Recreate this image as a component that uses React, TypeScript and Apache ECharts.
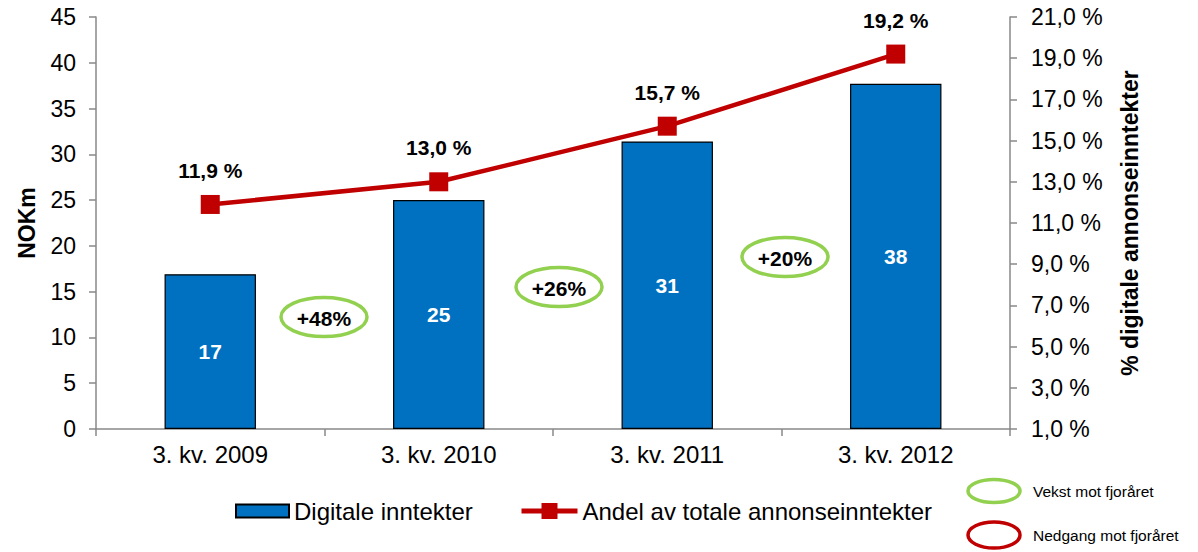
import React, { useEffect, useRef } from "react";
import * as echarts from "echarts";

const categories = ["3. kv. 2009", "3. kv. 2010", "3. kv. 2011", "3. kv. 2012"];
const digitalRevenue = [16.9, 25.0, 31.4, 37.7];
const shareOfTotal = [11.9, 13.0, 15.7, 19.2];
const growthLabels = ["+48%", "+26%", "+20%"];
const rightTicks = [1, 3, 5, 7, 9, 11, 13, 15, 17, 19, 21];
const barName = "Digitale inntekter";
const lineName = "Andel av totale annonseinntekter";
const keyLabels = ["Vekst mot fjoråret", "Nedgang mot fjoråret"];

const FONT = "'Liberation Sans', Arial, sans-serif";
const GREEN = "#92D050";
const RED = "#C00000";
const BLUE = "#0070C0";
const AXIS = "#898989";

const growthPos = [
  { x: 324, y: 317 },
  { x: 559, y: 287 },
  { x: 785, y: 257 },
];

const pct = (v: number) => v.toFixed(1).replace(".", ",") + " %";

export default function App() {
  const ref = useRef<HTMLDivElement>(null);
  useEffect(() => {
    document.body.style.margin = "0";
    const chart = echarts.init(ref.current!, undefined, { renderer: "svg" });
    const graphics: any[] = [];
    growthLabels.forEach((t, i) => {
      graphics.push({
        type: "ellipse",
        shape: { cx: growthPos[i].x, cy: growthPos[i].y, rx: 43, ry: 19.5 },
        style: { fill: "none", stroke: GREEN, lineWidth: 3.5 },
        z: 10,
      });
      graphics.push({
        type: "text",
        x: growthPos[i].x,
        y: growthPos[i].y + 1,
        style: {
          text: t,
          font: `bold 21px ${FONT}`,
          fill: "#000",
          align: "center",
          verticalAlign: "middle",
        },
        z: 11,
      });
    });
    const keyColors = [GREEN, RED];
    const keyY = [491, 535];
    keyLabels.forEach((t, i) => {
      graphics.push({
        type: "ellipse",
        shape: { cx: 994, cy: keyY[i], rx: 26, ry: 11.5 + i * 1.5 },
        style: { fill: "none", stroke: keyColors[i], lineWidth: 3.5 },
      });
      graphics.push({
        type: "text",
        x: 1033,
        y: keyY[i],
        style: {
          text: t,
          font: `15.5px ${FONT}`,
          fill: "#000",
          align: "left",
          verticalAlign: "middle",
        },
      });
    });

    const legendText = { fontSize: 24, color: "#000", fontFamily: FONT };

    chart.setOption({
      animation: false,
      textStyle: { fontFamily: FONT },
      grid: { left: 96, right: 188, top: 17, bottom: 123, outerBoundsMode: "none" },
      legend: [
        {
          left: 230,
          top: 494,
          itemWidth: 53,
          itemHeight: 13,
          textStyle: legendText,
          data: [{ name: barName, icon: "rect" }],
        },
        {
          left: 514,
          top: 494,
          itemWidth: 56,
          itemHeight: 20,
          lineStyle: { width: 5 },
          textStyle: legendText,
          data: [{ name: lineName }],
        },
      ],
      xAxis: {
        type: "category",
        data: categories,
        axisLine: { lineStyle: { color: AXIS, width: 1.5 } },
        axisTick: { show: true, length: 7, lineStyle: { color: AXIS, width: 1.5 } },
        axisLabel: { fontSize: 24, color: "#000", margin: 13 },
      },
      yAxis: [
        {
          type: "value",
          min: 0,
          max: 45,
          interval: 5,
          name: "NOKm",
          nameLocation: "middle",
          nameRotate: 90,
          nameGap: 58,
          nameTextStyle: { fontSize: 23, fontWeight: "bold", color: "#000" },
          splitLine: { show: false },
          axisLine: { show: true, lineStyle: { color: AXIS, width: 1.5 } },
          axisTick: { show: true, length: 7, lineStyle: { color: AXIS, width: 1.5 } },
          axisLabel: { fontSize: 23, color: "#000", margin: 20 },
        },
        {
          type: "value",
          min: 1,
          max: 21,
          position: "right",
          name: "% digitale annonseinntekter",
          nameLocation: "middle",
          nameRotate: 90,
          nameGap: 108,
          nameTextStyle: { fontSize: 23, fontWeight: "bold", color: "#000" },
          splitLine: { show: false },
          axisLine: { show: true, lineStyle: { color: AXIS, width: 1.5 } },
          axisTick: {
            show: true,
            length: 7,
            customValues: rightTicks,
            lineStyle: { color: AXIS, width: 1.5 },
          },
          axisLabel: {
            fontSize: 23,
            color: "#000",
            margin: 21,
            customValues: rightTicks,
            formatter: (v: number) => pct(v),
          },
        },
      ],
      series: [
        {
          name: barName,
          type: "bar",
          data: digitalRevenue,
          barWidth: "40%",
          itemStyle: { color: BLUE, borderColor: "#000", borderWidth: 1.2 },
          label: {
            show: true,
            position: "inside",
            color: "#fff",
            fontWeight: "bold",
            fontSize: 21,
            formatter: (p: any) => String(Math.round(p.value)),
          },
        },
        {
          name: lineName,
          type: "line",
          yAxisIndex: 1,
          data: shareOfTotal,
          symbol: "rect",
          symbolSize: 19,
          lineStyle: { color: RED, width: 4.5 },
          itemStyle: { color: RED },
          z: 5,
          label: {
            show: true,
            position: "top",
            distance: 14,
            color: "#000",
            fontWeight: "bold",
            fontSize: 21,
            formatter: (p: any) => pct(p.value),
          },
        },
      ],
      graphic: graphics,
    });
    return () => chart.dispose();
  }, []);
  return <div ref={ref} style={{ width: 1198, height: 552 }} />;
}
